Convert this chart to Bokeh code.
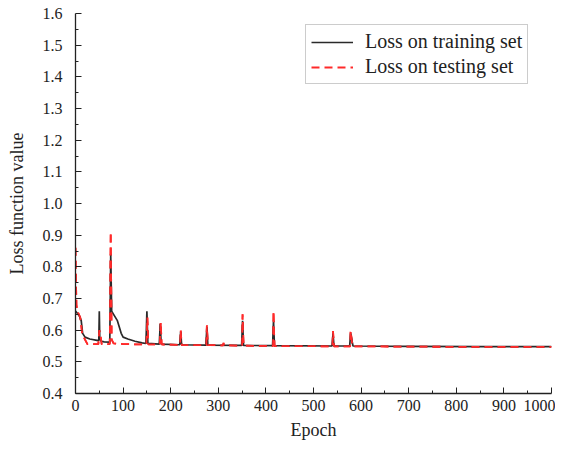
from bokeh.plotting import figure
from bokeh.models import Range1d, FixedTicker, Legend, LegendItem, PrintfTickFormatter
from bokeh.embed import file_html
from bokeh.resources import INLINE

train_epoch = [0, 3, 8, 12, 15, 20, 30, 45, 49, 50, 51, 55, 60, 72, 74, 76, 80, 88, 92, 96, 100, 110, 125, 140,
               148, 150, 152, 176, 178, 180, 219, 221, 223, 274, 276, 278, 349, 351, 353, 414, 416, 418,
               539, 541, 543, 576, 578, 583, 700, 850, 1000]
train_loss = [0.66, 0.655, 0.645, 0.63, 0.59, 0.578, 0.572, 0.568, 0.568, 0.66, 0.57, 0.565, 0.563, 0.562, 0.84,
              0.66, 0.65, 0.63, 0.61, 0.59, 0.578, 0.572, 0.565, 0.56,
              0.558, 0.66, 0.558, 0.556, 0.62, 0.556, 0.554, 0.595, 0.554, 0.553, 0.61, 0.553, 0.552, 0.63, 0.552,
              0.551, 0.63, 0.551, 0.55, 0.59, 0.55, 0.55, 0.59, 0.55, 0.549, 0.548, 0.548]

test_epoch = [0, 1, 2, 4, 10, 14, 20, 25, 40, 48, 50, 52, 55, 72, 74, 76, 80, 100, 140, 149, 151, 153,
              177, 179, 181, 220, 221, 223, 275, 276, 278, 310, 311, 312, 350, 351, 353, 415, 416, 418,
              540, 541, 543, 577, 578, 582, 700, 850, 1000]
test_loss = [0.86, 0.75, 0.68, 0.66, 0.64, 0.59, 0.57, 0.556, 0.556, 0.556, 0.6, 0.59, 0.556, 0.556, 0.91, 0.57,
             0.558, 0.556, 0.555, 0.555, 0.64, 0.555, 0.555, 0.625, 0.555, 0.553, 0.6, 0.553, 0.553, 0.615, 0.553,
             0.552, 0.56, 0.552, 0.551, 0.65, 0.551, 0.55, 0.66, 0.55, 0.549, 0.597, 0.549, 0.549, 0.597, 0.549,
             0.548, 0.547, 0.547]

x_ticks = [0, 100, 200, 300, 400, 500, 600, 700, 800, 900, 1000]
y_ticks = [0.4, 0.5, 0.6, 0.7, 0.8, 0.9, 1.0, 1.1, 1.2, 1.3, 1.4, 1.5, 1.6]

FONT = "Liberation Serif"

p = figure(width=555, height=442, output_backend="svg", toolbar_location=None,
           x_range=Range1d(0, 1000), y_range=Range1d(0.4, 1.6),
           min_border_left=75, min_border_right=4, min_border_top=13, min_border_bottom=47)
p.outline_line_color = None
p.xgrid.visible = False
p.ygrid.visible = False

r_test = p.line(test_epoch, test_loss, line_color="#ff2a2a", line_width=1.8, line_dash="8 5")
r_train = p.line(train_epoch, train_loss, line_color="#2a2a2a", line_width=1.7)
r_test2 = p.line(test_epoch, test_loss, line_color="#ff2a2a", line_width=1.8, line_dash="8 5")

p.xaxis.ticker = FixedTicker(ticks=x_ticks, minor_ticks=[50 + 100 * i for i in range(10)])
p.yaxis.ticker = FixedTicker(ticks=y_ticks, minor_ticks=[0.45 + 0.1 * i for i in range(12)])
p.yaxis.formatter = PrintfTickFormatter(format="%.1f")

for ax in (p.xaxis[0], p.yaxis[0]):
    ax.major_tick_in = 6
    ax.major_tick_out = 0
    ax.minor_tick_in = 3
    ax.minor_tick_out = 0
    ax.axis_line_color = "#222222"
    ax.major_tick_line_color = "#222222"
    ax.minor_tick_line_color = "#222222"
    ax.axis_line_width = 1.3
    ax.major_label_text_font = FONT
    ax.major_label_text_font_size = "16px"
    ax.major_label_text_color = "#222222"
    ax.axis_label_text_font = FONT
    ax.axis_label_text_font_size = "18px"
    ax.axis_label_text_font_style = "normal"
    ax.axis_label_text_color = "#222222"

p.xaxis.axis_label = "Epoch"
p.yaxis.axis_label = "Loss function value"
p.xaxis.major_label_standoff = 6
p.yaxis.major_label_standoff = 13
p.xaxis.axis_label_standoff = 6
p.yaxis.axis_label_standoff = 13

legend = Legend(items=[LegendItem(label="Loss on training set", renderers=[r_train]),
                       LegendItem(label="Loss on testing set", renderers=[r_test])],
                location=(230, 309))
legend.label_text_font = FONT
legend.label_text_font_size = "20px"
legend.label_text_color = "#222222"
legend.label_height = 20
legend.glyph_height = 20
legend.border_line_color = "#999999"
legend.border_line_width = 1
legend.glyph_width = 42
legend.spacing = 2
legend.padding = 5
legend.label_standoff = 12
legend.margin = 0
p.add_layout(legend)

open("out.html", "w").write(file_html(p, INLINE))
